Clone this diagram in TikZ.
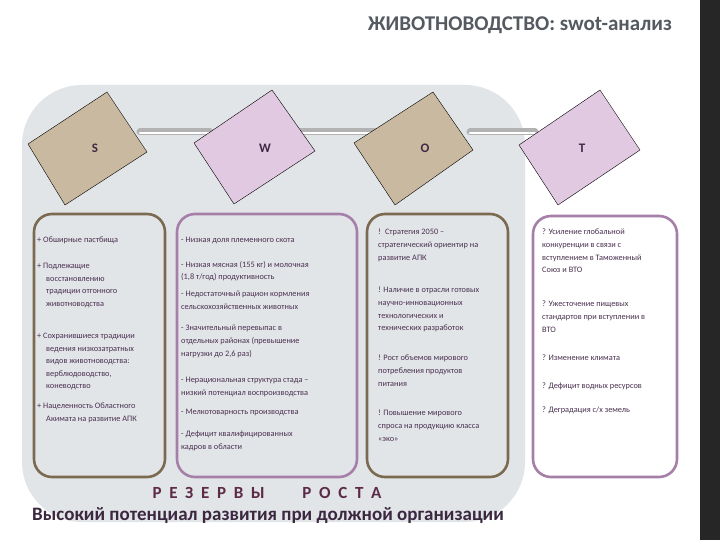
\documentclass[tikz,border=0pt]{standalone}
\usepackage{fontspec}
\setmainfont{Carlito}
\definecolor{bgpanel}{HTML}{E2E5E8}
\definecolor{tan}{HTML}{C9B9A0}
\definecolor{pinkk}{HTML}{E2C9E2}
\definecolor{brownb}{HTML}{7A6A50}
\definecolor{purpb}{HTML}{A67FA8}
\definecolor{txt}{HTML}{4A3050}
\definecolor{ttl}{HTML}{555A60}
\begin{document}
\begin{tikzpicture}[x=1pt,y=-1pt,
  dia/.style={draw=black,line width=0.4pt},
  lbl/.style={font=\fontsize{13}{13}\selectfont\bfseries,text=txt!85!black},
  box/.style={rounded corners=18pt,line width=2.6pt},
  itm/.style={anchor=north west,align=left,inner sep=0pt,text=txt,font=\fontsize{8.3}{12.6}\selectfont},
  pipe/.style={line width=7pt,draw=gray!60,line cap=round}]
\useasboundingbox (0,0) rectangle (720,540);
\fill[white] (0,0) rectangle (720,540);
\fill[black!85] (700,0) rectangle (720,540);
\fill[bgpanel,rounded corners=60pt] (22,85) rectangle (525,522);
\node[font=\fontsize{21}{21}\selectfont\bfseries,text=ttl] (title) at (520,25) {ЖИВОТНОВОДСТВО: swot-анализ};
% pipes
\coordinate (p1) at (140,132); \coordinate (p2) at (210,132);
\coordinate (p3) at (300,132); \coordinate (p4) at (380,132);
\coordinate (p5) at (470,132); \coordinate (p6) at (535,132);
\foreach \a/\b in {p1/p2,p3/p4,p5/p6}{
  \draw[pipe] (\a) -- (\b);
  \draw[line width=2.5pt,white,line cap=round] ([yshift=-1pt]\a) -- ([yshift=-1pt]\b);}
% diamonds
\filldraw[dia,fill=tan] (107,92) -- (147,152) -- (65,205) -- (28,144) -- cycle;
\filldraw[dia,fill=pinkk] (272,90) -- (315,151) -- (234,204) -- (194,143) -- cycle;
\filldraw[dia,fill=tan] (433,92) -- (473,150) -- (395,205) -- (354,143) -- cycle;
\filldraw[dia,fill=pinkk] (600,90) -- (640,150) -- (558,205) -- (519,145) -- cycle;
\node[lbl] (S) at (95,148) {S};
\node[lbl] (W) at (265,148) {W};
\node[lbl] (O) at (425,148) {O};
\node[lbl] (T) at (582,148) {T};
% boxes
\draw[box,draw=brownb] (34,214) rectangle (165,477);
\draw[box,draw=purpb] (177,214) rectangle (357,477);
\draw[box,draw=brownb] (367,214) rectangle (508,477);
\draw[box,draw=purpb,fill=white] (533,216) rectangle (677,477);
% S
\node[itm] (s1) at (37,237) {+ Обширные пастбища};
\node[itm] (s2) at (37,263) {+ Подлежащие\\\hspace*{9pt}восстановлению\\\hspace*{9pt}традиции отгонного\\\hspace*{9pt}животноводства};
\node[itm] (s3) at (37,333) {+ Сохранившиеся традиции\\\hspace*{9pt}ведения низкозатратных\\\hspace*{9pt}видов животноводства:\\\hspace*{9pt}верблюдоводство,\\\hspace*{9pt}коневодство};
\node[itm] (s4) at (37,403) {+ Нацеленность Областного\\\hspace*{9pt}Акимата на развитие АПК};
% W
\node[itm] (w1) at (181,237) {- Низкая доля племенного скота};
\node[itm] (w2) at (181,261) {- Низкая мясная (155 кг) и молочная\\(1,8 т/год) продуктивность};
\node[itm] (w3) at (181,291) {- Недостаточный рацион кормления\\сельскохозяйственных животных};
\node[itm] (w4) at (181,325) {- Значительный перевыпас в\\отдельных районах (превышение\\нагрузки до 2,6 раз)};
\node[itm] (w5) at (181,377) {- Нерациональная структура стада –\\низкий потенциал воспроизводства};
\node[itm] (w6) at (181,409) {- Мелкотоварность производства};
\node[itm] (w7) at (181,431) {- Дефицит квалифицированных\\кадров в области};
% O
\node[itm] (o1) at (378,229) {!\enspace Стратегия 2050 –\\стратегический ориентир на\\развитие АПК};
\node[itm] (o2) at (378,287) {! Наличие в отрасли готовых\\научно-инновационных\\технологических и\\технических разработок};
\node[itm] (o3) at (378,355) {! Рост объемов мирового\\потребления продуктов\\питания};
\node[itm] (o4) at (378,410) {! Повышение мирового\\спроса на продукцию класса\\«эко»};
% T
\node[itm] (t1) at (542,229) {? Усиление глобальной\\конкуренции в связи с\\вступлением в Таможенный\\Союз и ВТО};
\node[itm] (t2) at (542,301) {? Ужесточение пищевых\\стандартов при вступлении в\\ВТО};
\node[itm] (t3) at (542,355) {? Изменение климата};
\node[itm] (t4) at (542,383) {? Дефицит водных ресурсов};
\node[itm] (t5) at (542,407) {? Деградация с/х земель};
% bottom
\node[font=\fontsize{17}{17}\selectfont\bfseries,text=txt!90!red] (r) at (267,493) {Р\ \ Е\ \ З\ \ Е\ \ Р\ \ В\ \ Ы\qquad\ Р\ \ О\ \ С\ \ Т\ \ А};
\node[font=\fontsize{19}{19}\selectfont\bfseries,text=txt!80!black] (v) at (268,516) {Высокий потенциал развития при должной организации};
\end{tikzpicture}
\end{document}
